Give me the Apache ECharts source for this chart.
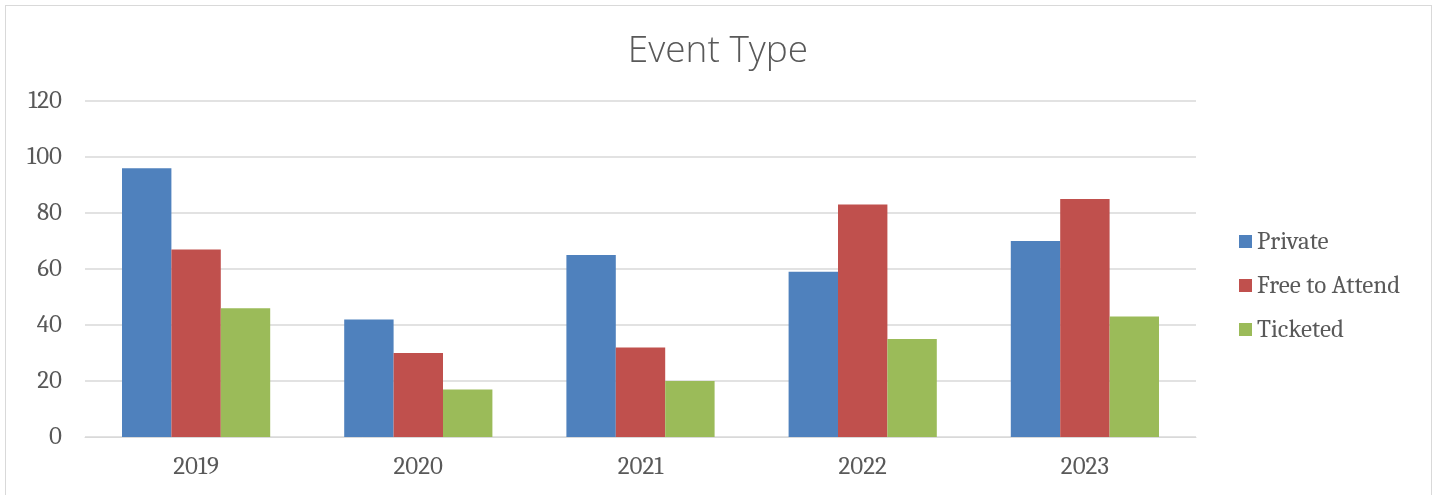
<!DOCTYPE html>
<html>
<head>
<meta charset="utf-8">
<script src="https://cdn.jsdelivr.net/npm/echarts@6/dist/echarts.min.js"></script>
<style>
  html, body { margin: 0; padding: 0; background: #fff; }
  #chart { position: absolute; left: 5px; top: 5px; width: 1427px; height: 500px; border: 1px solid #d9d9d9; box-sizing: border-box; }
</style>
</head>
<body>
<div id="chart"></div>
<script>
const years = ['2019', '2020', '2021', '2022', '2023']
const privateEvents = [96, 42, 65, 59, 70]
const freeEvents = [67, 30, 32, 83, 85]
const ticketedEvents = [46, 17, 20, 35, 43]
const yTicks = [0, 20, 40, 60, 80, 100, 120]

const chart = echarts.init(document.getElementById('chart'))
const labelFont = 'Caladea, Cambria, "DejaVu Serif", serif'

const option = {
  animation: false,
  title: {
    text: 'Event Type',
    left: 707,
    top: 22,
    textAlign: 'center',
    textStyle: { fontFamily: '"Open Sans", sans-serif', fontWeight: 300, fontSize: 37, color: '#595959' }
  },
  legend: {
    orient: 'vertical',
    left: 1228,
    top: 218,
    itemWidth: 13,
    itemHeight: 13,
    itemGap: 19,
    icon: 'rect',
    textStyle: { fontFamily: labelFont, fontSize: 25, color: '#595959', padding: [0, 0, 0, 0] },
    data: ['Private', 'Free to Attend', 'Ticketed']
  },
  grid: { left: 79, top: 95, width: 1111, height: 336 },
  xAxis: {
    type: 'category',
    data: years,
    axisLine: { lineStyle: { color: '#d9d9d9', width: 1 } },
    axisTick: { show: false },
    axisLabel: { fontFamily: labelFont, fontSize: 25, color: '#595959', margin: 17 }
  },
  yAxis: {
    type: 'value',
    min: yTicks[0],
    max: yTicks[yTicks.length - 1],
    interval: 20,
    axisLine: { show: false },
    axisTick: { show: false },
    splitLine: { lineStyle: { color: '#d9d9d9', width: 1.5 } },
    axisLabel: { fontFamily: labelFont, fontSize: 25, color: '#595959', margin: 23 }
  },
  series: [
    { name: 'Private', type: 'bar', data: privateEvents, itemStyle: { color: '#4F81BD' }, barWidth: 49.4, barGap: '0%' },
    { name: 'Free to Attend', type: 'bar', data: freeEvents, itemStyle: { color: '#C0504D' }, barWidth: 49.4, barGap: '0%' },
    { name: 'Ticketed', type: 'bar', data: ticketedEvents, itemStyle: { color: '#9BBB59' }, barWidth: 49.4, barGap: '0%' }
  ]
}
chart.setOption(option)
</script>
</body>
</html>
